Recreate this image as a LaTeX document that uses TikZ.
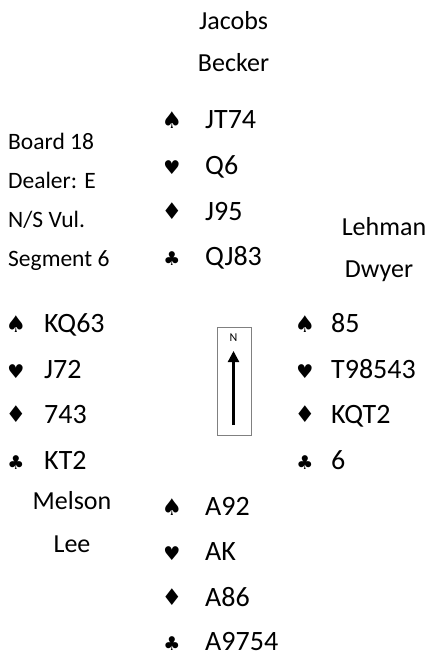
\documentclass[tikz,border=0pt]{standalone}
\usepackage{fontspec}
\setmainfont{Carlito}
\newfontfamily\suitfont{DejaVu Sans}
\usetikzlibrary{arrows.meta}
\begin{document}
\begin{tikzpicture}
[x=1pt,y=-1pt, nm/.style={font=\fontsize{26}{26}\selectfont,inner sep=0pt,anchor=base},
bd/.style={font=\fontsize{23.5}{24}\selectfont,inner sep=0pt,anchor=base west},
cd/.style={font=\fontsize{28}{28}\selectfont,inner sep=0pt,anchor=base west},
st/.style={font=\suitfont\fontsize{19}{19}\selectfont,inner sep=0pt,anchor=base},
sb/.style={st,font=\suitfont\fontsize{23}{23}\selectfont}]
\useasboundingbox (0,0) rectangle (430,656);
% players
\node(jac) at (233.5,29)[nm]{Jacobs};\node(bec) at (233.5,71)[nm]{Becker};
\node(leh) at (384,235)[nm]{Lehman};\node(dwy) at (379,277)[nm]{Dwyer};
\node(mel) at (72,509)[nm]{Melson};\node(lee) at (72,552)[nm]{Lee};
% board info
\node(brd) at (8,149)[bd]{Board 18};\node(dlr) at (8,188)[bd]{Dealer: E};
\node(vul) at (8,227)[bd]{N/S Vul.};\node(seg) at (8,266)[bd]{Segment 6};
% north
\node(ns) at (172,128)[sb]{♠};\node(nS) at (205,128)[cd]{JT74};
\node(nh) at (172,174)[st]{♥};\node(nH) at (205,174)[cd]{Q6};
\node(nd) at (172,219)[sb]{♦};\node(nD) at (205,220)[cd]{J95};
\node(nc) at (172,265)[st]{♣};\node(nC) at (205,265)[cd]{QJ83};
% west
\node(ws) at (16,332)[sb]{♠};\node(wS) at (44,332)[cd]{KQ63};
\node(wh) at (16,378)[st]{♥};\node(wH) at (44,378)[cd]{J72};
\node(wd) at (16,422)[sb]{♦};\node(wD) at (44,423)[cd]{743};
\node(wc) at (16,469)[st]{♣};\node(wC) at (44,469)[cd]{KT2};
% east
\node(es) at (305,332)[sb]{♠};\node(eS) at (331,332)[cd]{85};
\node(eh) at (305,378)[st]{♥};\node(eH) at (331,378)[cd]{T98543};
\node(ed) at (305,422)[sb]{♦};\node(eD) at (331,423)[cd]{KQT2};
\node(ec) at (305,469)[st]{♣};\node(eC) at (331,469)[cd]{6};
% south
\node(ss) at (172,515)[sb]{♠};\node(sS) at (205,515)[cd]{A92};
\node(sh) at (172,560)[st]{♥};\node(sH) at (205,560)[cd]{AK};
\node(sd) at (172,605)[sb]{♦};\node(sD) at (205,606)[cd]{A86};
\node(sc) at (172,650)[st]{♣};\node(sC) at (205,650)[cd]{A9754};
% compass
\node(box) at (234.5,381)[draw=gray,line width=.8pt,minimum width=34pt,minimum height=108pt,inner sep=0pt]{};
\node(n) at (233.5,338)[font=\fontsize{12}{12}\selectfont,inner sep=0pt]{N};
\coordinate(ta) at (233.5,425);\coordinate(tb) at (233.5,351);
\draw[line width=2.2pt,-{Triangle[length=11pt,width=11pt]}](ta)--(tb);
\end{tikzpicture}
\end{document}
